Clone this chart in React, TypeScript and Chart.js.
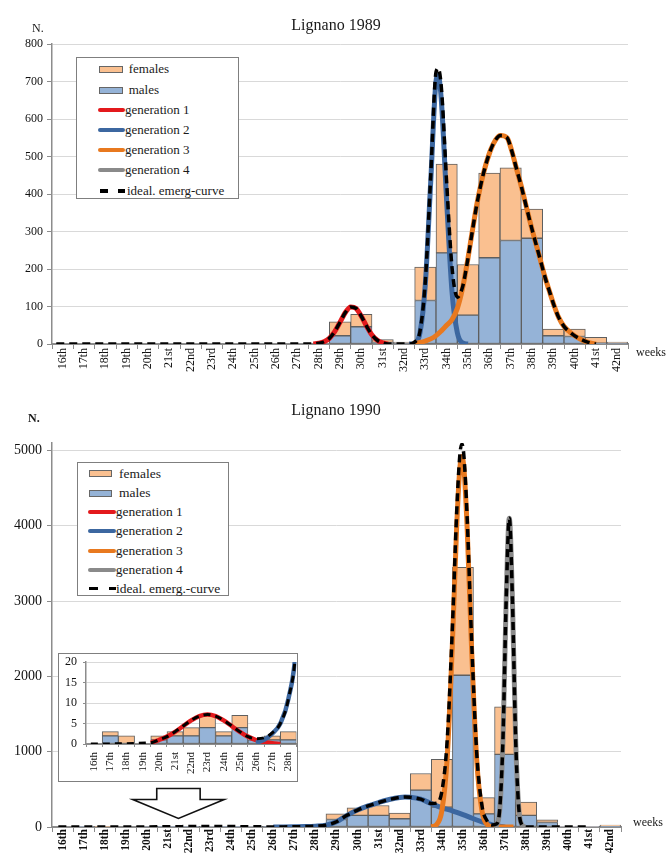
import React, { useEffect, useRef } from 'react';
import { Chart, registerables } from 'chart.js';

Chart.register(...registerables);

// ---------- data ----------
const weekLabels = ['16th','17th','18th','19th','20th','21st','22nd','23rd','24th','25th','26th','27th','28th','29th','30th','31st','32nd','33rd','34th','35th','36th','37th','38th','39th','40th','41st','42nd'];
const insetLabels = weekLabels.slice(0, 13);

const males1989 = [0,0,0,0,0,0,0,0,0,0,0,0,0,22,46,4,4,116,243,77,230,276,282,22,20,2,3];
const females1989 = [0,0,0,0,0,0,0,0,0,0,0,0,0,37,33,8,1,89,237,135,226,194,78,18,20,16,2];

const males1990 = [0,2,0,0,1,2,2,4,2,4,1,1,1,100,155,155,110,490,265,2015,175,965,155,60,4,5,10];
const females1990 = [0,1,2,0,1,1,2,3,1,3,0,1,2,75,100,130,75,220,635,1435,215,630,175,35,4,5,15];

const yTicks1989 = [0,100,200,300,400,500,600,700,800];
const yTicks1990 = [0,1000,2000,3000,4000,5000];
const yTicksInset = [0,5,10,15,20];

// curves: [week, value]
const gen1_1989 = [[27.75,0],[28,2],[28.25,6],[28.5,15],[28.75,33],[29,58],[29.25,84],[29.5,99],[29.75,95],[30,74],[30.25,47],[30.5,24],[30.75,10],[31,3],[31.25,0]];
const gen2_1989 = [[32.25,0],[32.5,3],[32.75,30],[33,160],[33.25,430],[33.5,700],[33.6,716],[33.75,650],[34,380],[34.25,140],[34.5,30],[34.75,3],[35,0]];
const gen3_1989 = [[32.4,0],[32.75,4],[33,8],[33.4,18],[33.75,35],[34,50],[34.25,65],[34.5,95],[34.75,150],[34.95,212],[35.2,300],[35.42,374],[35.73,456],[36.05,516],[36.3,545],[36.52,556],[36.83,550],[37.05,515],[37.26,470],[37.5,420],[37.76,360],[38.05,295],[38.36,231],[38.6,180],[38.86,133],[39.05,100],[39.25,71],[39.5,47],[39.79,31],[40.05,20],[40.34,11],[40.6,5],[40.89,1],[41,0]];
const ideal_1989 = [[15.7,0],[27.75,0],[28,2],[28.25,6],[28.5,15],[28.75,33],[29,58],[29.25,84],[29.5,99],[29.75,95],[30,74],[30.25,47],[30.5,24],[30.75,10],[31,3],[31.25,0],[32.25,0],[32.5,5],[32.75,34],[33,168],[33.25,445],[33.5,725],[33.6,735],[33.75,685],[34,430],[34.25,205],[34.5,125],[34.75,153],[34.95,212],[35.2,300],[35.42,374],[35.73,456],[36.05,516],[36.3,545],[36.52,556],[36.83,550],[37.05,515],[37.26,470],[37.5,420],[37.76,360],[38.05,295],[38.36,231],[38.6,180],[38.86,133],[39.05,100],[39.25,71],[39.5,47],[39.79,31],[40.05,20],[40.34,11],[40.6,5],[40.89,1],[41,0]];

const gen1_1990 = [[19.5,0.3],[20,0.97],[20.5,1.8],[21,2.96],[21.5,4.37],[22,5.76],[22.5,6.81],[23,7.2],[23.5,6.81],[24,5.76],[24.5,4.37],[25,2.96],[25.5,1.8],[26,0.97],[26.5,0.47],[27,0.2],[27.5,0]];
const gen2_1990 = [[26,0.3],[26.5,1],[27,2.5],[27.5,5],[28,11],[28.5,25],[29,70],[29.5,155],[30,225],[30.5,280],[31,325],[31.5,365],[32,393],[32.25,399],[32.5,395],[33,370],[33.5,310],[34,255],[34.5,215],[35,165],[35.5,110],[36,60],[36.5,20],[36.75,9],[37,0]];
const gen3_1990 = [[33.5,3],[33.75,34],[34,218],[34.25,904],[34.5,2440],[34.7,3965],[34.85,4753],[34.95,4920],[35.05,4753],[35.2,3965],[35.4,2440],[35.65,904],[35.9,218],[36.15,34],[36.4,3],[36.75,0],[37.4,0]];
const gen4_1990 = [[36.5,0],[36.6,27],[36.75,246],[36.9,1172],[37.05,2996],[37.2,4100],[37.35,2996],[37.5,1172],[37.65,246],[37.8,27],[37.95,0]];
const ideal_1990 = [[15.8,0],[19.5,0.3],[20,1],[20.5,1.8],[21,3],[21.5,4.4],[22,5.8],[22.5,6.8],[23,7.2],[23.5,6.8],[24,5.8],[24.5,4.4],[25,3],[25.5,1.8],[26,1.3],[26.5,1.5],[27,2.7],[27.5,5],[28,11],[28.5,25],[29,70],[29.5,155],[30,225],[30.5,280],[31,325],[31.5,365],[32,393],[32.25,399],[32.5,395],[33,370],[33.5,313],[33.75,317],[34,473],[34.25,1140],[34.5,2655],[34.7,4160],[34.85,4933],[34.95,5085],[35.05,4913],[35.2,4108],[35.4,2561],[35.65,999],[35.9,288],[36.15,79],[36.4,28],[36.6,42],[36.75,255],[36.9,1177],[37.05,2998],[37.2,4100],[37.35,2996],[37.5,1172],[37.65,246],[37.8,27],[37.95,0],[41,0]];

const arrowWeek = 21.5;

// ---------- styles ----------
const FEM = '#FAC090';
const MAL = '#95B3D7';
const RED = '#E3191C';
const BLUE = '#3C67A0';
const ORANGE = '#E8791F';
const GRAY = '#8A8A8A';
const BORDER = '#5f5f5f';
const AXIS = '#8c8c8c';
const GRID = '#d9d9d9';
const SERIF = '"Liberation Serif", "DejaVu Serif", serif';

function makeConfig(o: any): any {
  const barBase = { borderColor: BORDER, borderWidth: 1, borderSkipped: false, xAxisID: 'x', yAxisID: 'y', barPercentage: 1, categoryPercentage: 1, grouped: false, stack: 'bars' };
  const datasets: any[] = [
    { type: 'bar', label: 'males', data: o.males, backgroundColor: MAL, order: 10, ...barBase },
    { type: 'bar', label: 'females', data: o.females, backgroundColor: FEM, order: 11, ...barBase },
    ...o.curves.map((c: any) => ({
      type: 'line', label: c.id,
      data: c.pts.map((p: number[]) => ({ x: p[0], y: p[1] })),
      xAxisID: 'x2', yAxisID: 'y',
      borderColor: c.color, borderWidth: c.width, borderDash: c.dash || [],
      pointRadius: 0, pointHoverRadius: 0, fill: false,
      cubicInterpolationMode: 'monotone', order: c.order, stack: 'line-' + c.id,
      borderCapStyle: 'butt', borderJoinStyle: 'round',
    })),
  ];
  return {
    type: 'bar',
    data: { labels: o.labels, datasets },
    options: {
      responsive: false,
      animation: false,
      events: [],
      layout: { padding: o.pad },
      plugins: { legend: { display: false }, title: { display: false }, tooltip: { enabled: false } },
      scales: {
        x: {
          type: 'category', stacked: true, offset: true,
          grid: { display: true, drawOnChartArea: false, offset: true, tickLength: o.xTickLen, tickColor: AXIS },
          border: { display: true, color: AXIS, width: 2 },
          ticks: { autoSkip: false, maxRotation: 90, minRotation: 90, font: o.xFont, color: '#111', padding: o.xPad },
          afterFit: (s: any) => { s.height = o.xHeight; s.paddingLeft = 0; s.paddingRight = 0; },
        },
        x2: { type: 'linear', display: false, offset: false, grid: { offset: false }, bounds: 'ticks', min: o.xMin, max: o.xMax,
          afterFit: (s: any) => { s.paddingLeft = 0; s.paddingRight = 0; } },
        y: {
          type: 'linear', stacked: true, min: 0, max: o.yMax,
          afterBuildTicks: (s: any) => { s.ticks = o.yTicks.map((v: number) => ({ value: v })); },
          grid: { color: GRID, tickLength: o.yTickLen, tickColor: AXIS },
          border: { display: true, color: AXIS, width: 1.5 },
          ticks: { font: o.yFont, color: '#111', padding: o.yPad, callback: (v: any) => String(v) },
          afterFit: (s: any) => { s.width = o.yWidth; s.paddingTop = 0; s.paddingBottom = 0; },
        },
      },
    },
    plugins: o.plugins || [],
  };
}

const arrowPlugin = {
  id: 'downArrow',
  afterDraw(chart: any) {
    const ctx = chart.ctx;
    const x = chart.scales.x.getPixelForValue(arrowWeek - 16);
    const y0 = chart.scales.y.getPixelForValue(0);
    const tip = y0 - 8.5;
    const headTop = tip - 19;
    const shaftTop = tip - 30;
    ctx.save();
    ctx.beginPath();
    ctx.moveTo(x - 21.7, shaftTop);
    ctx.lineTo(x + 21.7, shaftTop);
    ctx.lineTo(x + 21.7, headTop);
    ctx.lineTo(x + 45.7, headTop);
    ctx.lineTo(x, tip);
    ctx.lineTo(x - 45.7, headTop);
    ctx.lineTo(x - 21.7, headTop);
    ctx.closePath();
    ctx.fillStyle = '#fff';
    ctx.fill();
    ctx.strokeStyle = '#111';
    ctx.lineWidth = 1.6;
    ctx.stroke();
    ctx.restore();
  },
};

const GEN_W = 5;
const DASH_W = 3.5;
const DASH = [8, 5];

function Legend(props: any) {
  const { box, rows, font, items, geo } = props;
  return (
    <div style={{ position: 'absolute', left: box.left, top: box.top, width: box.width, height: box.height, border: '1px solid #7f7f7f', boxSizing: 'border-box', background: '#fff', fontFamily: SERIF, fontSize: font, color: '#1a1a1a' }}>
      {items.map((it: any, i: number) => {
        const y = rows[i];
        const els: any[] = [];
        if (it.kind === 'rect') {
          els.push(<div key="s" style={{ position: 'absolute', left: geo.rx0, top: y - 3.5, width: geo.rx1 - geo.rx0, height: 7, background: it.color, border: '1px solid #666', boxSizing: 'border-box' }} />);
        } else if (it.kind === 'line') {
          els.push(<div key="s" style={{ position: 'absolute', left: geo.lx0, top: y - 2, width: geo.lx1 - geo.lx0, height: 4, background: it.color, borderRadius: 2 }} />);
        } else {
          els.push(<div key="d1" style={{ position: 'absolute', left: geo.d[0], top: y - 1.75, width: geo.d[1] - geo.d[0], height: 3.5, background: '#000' }} />);
          els.push(<div key="d2" style={{ position: 'absolute', left: geo.d[2], top: y - 1.75, width: geo.d[3] - geo.d[2], height: 3.5, background: '#000' }} />);
        }
        const tx = it.kind === 'rect' ? geo.tr : it.kind === 'line' ? geo.tl : geo.td;
        els.push(<div key="t" style={{ position: 'absolute', left: tx, top: y, transform: 'translateY(-52%)', lineHeight: 1, whiteSpace: 'nowrap' }}>{it.label}</div>);
        return <React.Fragment key={i}>{els}</React.Fragment>;
      })}
    </div>
  );
}

const legendItems1989 = [
  { label: 'females', kind: 'rect', color: FEM },
  { label: 'males', kind: 'rect', color: MAL },
  { label: 'generation 1', kind: 'line', color: RED },
  { label: 'generation 2', kind: 'line', color: BLUE },
  { label: 'generation 3', kind: 'line', color: ORANGE },
  { label: 'generation 4', kind: 'line', color: GRAY },
  { label: 'ideal. emerg-curve', kind: 'dash' },
];
const legendItems1990 = [
  { label: 'females', kind: 'rect', color: FEM },
  { label: 'males', kind: 'rect', color: MAL },
  { label: 'generation 1', kind: 'line', color: RED },
  { label: 'generation 2', kind: 'line', color: BLUE },
  { label: 'generation 3', kind: 'line', color: ORANGE },
  { label: 'generation 4', kind: 'line', color: GRAY },
  { label: 'ideal. emerg.-curve', kind: 'dash' },
];

export default function App() {
  const topRef = useRef<HTMLCanvasElement>(null);
  const botRef = useRef<HTMLCanvasElement>(null);
  const insRef = useRef<HTMLCanvasElement>(null);

  useEffect(() => {
    const charts: any[] = [];
    charts.push(new Chart(topRef.current as any, makeConfig({
      labels: weekLabels, males: males1989, females: females1989,
      curves: [
        { id: 'g1', pts: gen1_1989, color: RED, width: GEN_W, order: 4 },
        { id: 'g2', pts: gen2_1989, color: BLUE, width: GEN_W, order: 3 },
        { id: 'g3', pts: gen3_1989, color: ORANGE, width: GEN_W, order: 2 },
        { id: 'ideal', pts: ideal_1989, color: '#000', width: DASH_W, dash: DASH, order: 0 },
      ],
      yMax: 800, yTicks: yTicks1989, xMin: 15.5, xMax: 42.5,
      pad: { left: 0, right: 40, top: 44, bottom: 0 },
      yWidth: 52, xHeight: 36,
      yFont: { family: SERIF, size: 12 }, xFont: { family: SERIF, size: 12 },
      yPad: 4, xPad: -1, yTickLen: 5, xTickLen: 5,
    })));
    charts.push(new Chart(botRef.current as any, makeConfig({
      labels: weekLabels, males: males1990, females: females1990,
      curves: [
        { id: 'g2', pts: gen2_1990, color: BLUE, width: GEN_W, order: 4 },
        { id: 'g3', pts: gen3_1990, color: ORANGE, width: GEN_W, order: 3 },
        { id: 'g4', pts: gen4_1990, color: GRAY, width: GEN_W, order: 2 },
        { id: 'ideal', pts: ideal_1990, color: '#000', width: DASH_W, dash: DASH, order: 0 },
      ],
      yMax: 5100, yTicks: yTicks1990, xMin: 15.5, xMax: 42.5,
      pad: { left: 0, right: 47, top: 43, bottom: 0 },
      yWidth: 52, xHeight: 31,
      yFont: { family: SERIF, size: 14 }, xFont: { family: SERIF, size: 11.5, weight: 'bold' },
      yPad: 5, xPad: -3, yTickLen: 5, xTickLen: 5,
      plugins: [arrowPlugin],
    })));
    charts.push(new Chart(insRef.current as any, makeConfig({
      labels: insetLabels, males: males1990.slice(0, 13), females: females1990.slice(0, 13),
      curves: [
        { id: 'g1', pts: gen1_1990, color: RED, width: 4.5, order: 4 },
        { id: 'g2', pts: gen2_1990, color: BLUE, width: 4.5, order: 3 },
        { id: 'ideal', pts: ideal_1990, color: '#000', width: 3, dash: [7, 5], order: 0 },
      ],
      yMax: 20, yTicks: yTicksInset, xMin: 15.5, xMax: 28.5,
      pad: { left: 0, right: 0.5, top: 8, bottom: 0 },
      yWidth: 27, xHeight: 37,
      yFont: { family: SERIF, size: 12 }, xFont: { family: SERIF, size: 11 },
      yPad: 6, xPad: 5, yTickLen: 3, xTickLen: 3,
    })));
    return () => { charts.forEach((c) => c.destroy()); };
  }, []);

  const txt = (extra: any) => ({ position: 'absolute', fontFamily: SERIF, color: '#1a1a1a', lineHeight: 1, whiteSpace: 'nowrap', ...extra });

  return (
    <div style={{ position: 'absolute', left: 0, top: 0, width: 668, height: 858, background: '#fff', overflow: 'hidden' }}>
      <canvas ref={topRef} width={668} height={380} style={{ position: 'absolute', left: 0, top: 0 }} />
      <canvas ref={botRef} width={668} height={458} style={{ position: 'absolute', left: 0, top: 400 }} />
      <div style={{ position: 'absolute', left: 58, top: 653, width: 240, height: 129, border: '1px solid #7f7f7f', boxSizing: 'border-box', background: '#fff' }}>
        <canvas ref={insRef} width={238} height={127} style={{ position: 'absolute', left: 0, top: 0 }} />
      </div>
      <div style={txt({ left: 0, width: 672, top: 17, textAlign: 'center', fontSize: 16 })}>Lignano 1989</div>
      <div style={txt({ left: 32, top: 22, fontSize: 12 })}>N.</div>
      <div style={txt({ left: 636, top: 346, fontSize: 12 })}>weeks</div>
      <div style={txt({ left: 0, width: 672, top: 402, textAlign: 'center', fontSize: 16 })}>Lignano 1990</div>
      <div style={txt({ left: 28, top: 412, fontSize: 12, fontWeight: 'bold' })}>N.</div>
      <div style={txt({ left: 633, top: 816, fontSize: 12 })}>weeks</div>
      <Legend box={{ left: 76, top: 57, width: 163, height: 142 }} rows={[11.3, 32, 52.3, 72.3, 92.3, 112.3, 133]} font={13} items={legendItems1989}
        geo={{ rx0: 22, rx1: 46, lx0: 21, lx1: 48, tr: 51.7, tl: 48, td: 50, d: [23.3, 31.3, 41.3, 48] }} />
      <Legend box={{ left: 77, top: 462, width: 152, height: 134 }} rows={[10.7, 30, 49.3, 68.3, 87.7, 107, 125.7]} font={13.5} items={legendItems1990}
        geo={{ rx0: 11, rx1: 34.4, lx0: 10, lx1: 37.7, tr: 41, tl: 37.7, td: 38, d: [11, 20, 31, 38] }} />
    </div>
  );
}
